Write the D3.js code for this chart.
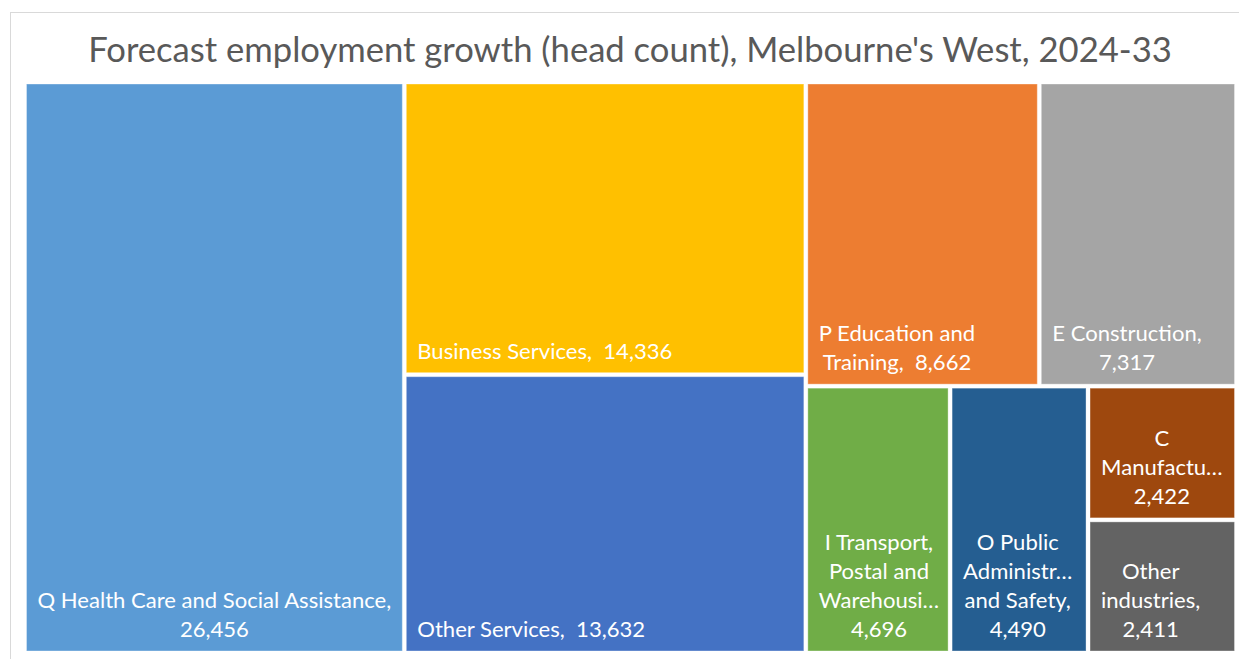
<!DOCTYPE html>
<html>
<head>
<meta charset="utf-8">
<script src="https://cdn.jsdelivr.net/npm/d3@7/dist/d3.min.js"></script>
<style>
  html, body { margin: 0; padding: 0; background: #fff; }
  svg { display: block; }
  text { font-family: Lato, "Open Sans", "Liberation Sans", sans-serif; }
</style>
</head>
<body>
<svg id="chart" width="1239" height="659"></svg>
<script>
// ---- Data ----
const title = "Forecast employment growth (head count), Melbourne's West, 2024-33";
const categories = [
  "Q Health Care and Social Assistance",
  "Business Services",
  "Other Services",
  "P Education and Training",
  "E Construction",
  "I Transport, Postal and Warehousing",
  "O Public Administration and Safety",
  "C Manufacturing",
  "Other industries"
];
const values = [26456, 14336, 13632, 8662, 7317, 4696, 4490, 2422, 2411];
// label lines as shown in the chart (value is appended as the last line or inline)
const labelLines = [
  ["Q Health Care and Social Assistance,", "26,456"],
  ["Business Services,  14,336"],
  ["Other Services,  13,632"],
  ["P Education and", "Training,  8,662"],
  ["E Construction,", "7,317"],
  ["I Transport,", "Postal and", "Warehousi\u2026", "4,696"],
  ["O Public", "Administr\u2026", "and Safety,", "4,490"],
  ["C", "Manufactu\u2026", "2,422"],
  ["Other", "industries,", "2,411"]
];
const colors = ["#5B9BD5", "#FFC000", "#4472C4", "#ED7D31", "#A5A5A5",
                "#70AD47", "#255E91", "#9E480E", "#636363"];

// ---- Layout ----
const svg = d3.select("#chart");
const W = 1239, H = 659;
const plot = { x: 26.5, y: 84, w: 1208, h: 567 };

// chart border
svg.append("rect")
  .attr("x", 10.5).attr("y", 12.5)
  .attr("width", 1240).attr("height", 660)
  .attr("fill", "#fff").attr("stroke", "#d9d9d9").attr("stroke-width", 1);

// helper for measuring text
function measure(str, size) {
  const t = svg.append("text").attr("font-size", size).attr("xml:space", "preserve")
    .style("white-space", "pre").text(str);
  const w = t.node().getComputedTextLength();
  t.remove();
  return w;
}

// Title, sized to match the reference width
const titleSize = 36 * 1084 / measure(title, 36);
svg.append("text")
  .attr("x", 630).attr("y", 62)
  .attr("text-anchor", "middle")
  .attr("font-size", titleSize)
  .attr("fill", "#595959")
  .text(title);

// Treemap
const data = categories.map((c, i) => ({ name: c, value: values[i], color: colors[i], lines: labelLines[i] }));
const root = d3.hierarchy({ children: data })
  .sum(d => d.value || 0)
  .sort((a, b) => b.value - a.value);

d3.treemap()
  .tile(d3.treemapSquarify.ratio(1))
  .size([plot.w, plot.h])
  .paddingInner(4)
  (root);

const g = svg.append("g").attr("transform", `translate(${plot.x},${plot.y})`);
const labelSize = 20 * 354 / measure("Q Health Care and Social Assistance,", 20);
const lineH = 29;

const leaves = g.selectAll("g.leaf").data(root.leaves()).join("g").attr("class", "leaf");
leaves.append("rect")
  .attr("x", d => d.x0).attr("y", d => d.y0)
  .attr("width", d => d.x1 - d.x0).attr("height", d => d.y1 - d.y0)
  .attr("fill", d => d.data.color)
  .attr("stroke", "rgba(255,255,255,0.35)").attr("stroke-width", 1);

leaves.each(function(d) {
  const lines = d.data.lines;
  const widths = lines.map(l => measure(l, labelSize));
  const blockW = d3.max(widths);
  const cx = d.x0 + 11 + blockW / 2;
  const lastBase = d.y1 - 14;
  const t = d3.select(this).append("text")
    .attr("font-size", labelSize)
    .attr("fill", "#fff")
    .attr("text-anchor", "middle")
    .attr("xml:space", "preserve")
    .style("white-space", "pre");
  lines.forEach((l, i) => {
    t.append("tspan")
      .attr("x", cx)
      .attr("y", lastBase - (lines.length - 1 - i) * lineH)
      .text(l);
  });
});
</script>
</body>
</html>
